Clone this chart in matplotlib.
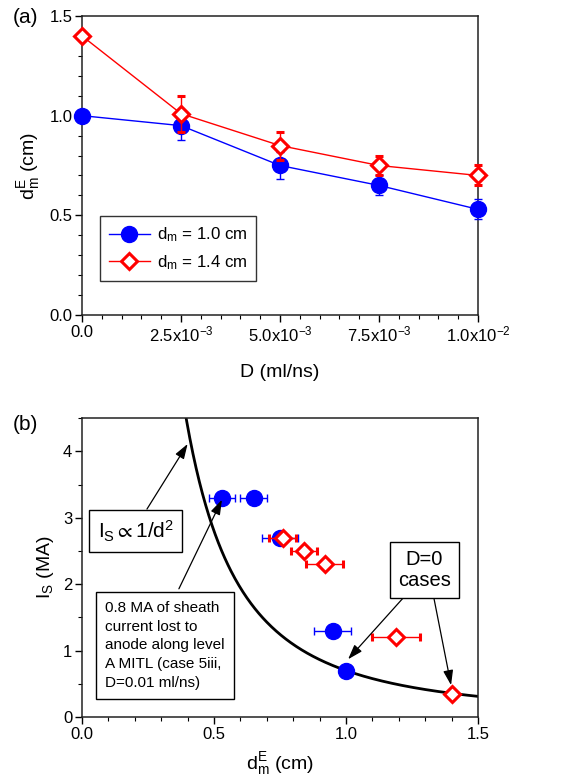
import numpy as np
import matplotlib.pyplot as plt
from matplotlib.ticker import MultipleLocator, FixedLocator
from matplotlib.lines import Line2D

plt.rcParams['font.family'] = ['Liberation Sans', 'DejaVu Sans']
plt.rcParams['mathtext.fontset'] = 'custom'
plt.rcParams['mathtext.rm'] = 'Liberation Sans'
plt.rcParams['mathtext.it'] = 'Liberation Sans:italic'
plt.rcParams['mathtext.default'] = 'regular'

# panel (a): d_m^E vs D
D = [0.0, 0.0025, 0.005, 0.0075, 0.01]
dE_10 = [1.0, 0.95, 0.75, 0.65, 0.53]
dE_10_err = [0.0, 0.07, 0.07, 0.05, 0.05]
dE_14 = [1.4, 1.01, 0.85, 0.75, 0.70]
dE_14_err = [0.0, 0.09, 0.07, 0.05, 0.05]
D_labels = ['0.0', r'2.5x10$^{-3}$', r'5.0x10$^{-3}$', r'7.5x10$^{-3}$', r'1.0x10$^{-2}$']

# panel (b): I_S vs d_m^E
b_d_10 = [0.53, 0.65, 0.75, 0.95, 1.0]
b_d_10_err = [0.05, 0.05, 0.07, 0.07, 0.0]
b_I_10 = [3.3, 3.3, 2.7, 1.3, 0.7]
b_d_14 = [0.76, 0.84, 0.92, 1.19, 1.4]
b_d_14_err = [0.05, 0.05, 0.07, 0.09, 0.0]
b_I_14 = [2.7, 2.5, 2.3, 1.2, 0.35]
fit_k = 0.7  # I_S = k / d^2

blue = '#0000ff'
red = '#ff0000'
circ = dict(marker='o', ms=11.5, mfc=blue, mec=blue)
diam = dict(marker='D', ms=8, mfc='white', mec=red, mew=2.2)

fig = plt.figure(figsize=(5.66, 7.81), dpi=100)
ax1 = fig.add_axes([0.1449, 0.5967, 0.6996, 0.3828])
ax2 = fig.add_axes([0.1449, 0.0819, 0.6996, 0.3828])

# ---- (a)
e1 = ax1.errorbar(D, dE_10, yerr=dE_10_err, color=blue, lw=1, capsize=3, elinewidth=1,
                  zorder=3, **circ)
e2 = ax1.errorbar(D, dE_14, yerr=dE_14_err, color=red, lw=1, capsize=3, elinewidth=1,
                  zorder=4, **diam)
for e in (e1, e2):
    e[0].set_clip_on(False)
    for c in e[1]:
        c.set_clip_on(False)
ax1.set_xlim(0, 0.01)
ax1.set_ylim(0, 1.5)
ax1.xaxis.set_major_locator(FixedLocator(D))
ax1.set_xticklabels(D_labels)
ax1.xaxis.set_minor_locator(MultipleLocator(0.0005))
ax1.yaxis.set_major_locator(MultipleLocator(0.5))
ax1.yaxis.set_minor_locator(MultipleLocator(0.1))
ax1.set_xlabel('D (ml/ns)', fontsize=14, labelpad=14)
ax1.set_ylabel(r'd$_m^E$ (cm)', fontsize=14, labelpad=5)
handles = [Line2D([], [], color=blue, lw=1, **circ), Line2D([], [], color=red, lw=1, **diam)]
leg = ax1.legend(handles, [r'd$_m$ = 1.0 cm', r'd$_m$ = 1.4 cm'], loc='lower left',
                 bbox_to_anchor=(0.045, 0.114), borderaxespad=0, fontsize=12.2,
                 frameon=True, fancybox=False, edgecolor='black', handlelength=2.4,
                 borderpad=0.55, labelspacing=0.5, handletextpad=0.4)
leg.get_frame().set_linewidth(1)
fig.text(0.022, 0.977, '(a)', fontsize=15, va='center')

# ---- (b)
dd = np.linspace(0.3, 1.5, 400)
ax2.plot(dd, fit_k / dd**2, color='black', lw=2, zorder=2)
ax2.errorbar(b_d_10, b_I_10, xerr=b_d_10_err, color=blue, ls='none', capsize=3,
             elinewidth=1, zorder=3, **circ)
ax2.errorbar(b_d_14, b_I_14, xerr=b_d_14_err, color=red, ls='none', capsize=3,
             elinewidth=1, zorder=4, **diam)
ax2.set_xlim(0, 1.5)
ax2.set_ylim(0, 4.5)
ax2.xaxis.set_major_locator(MultipleLocator(0.5))
ax2.xaxis.set_minor_locator(MultipleLocator(0.1))
ax2.yaxis.set_major_locator(MultipleLocator(1))
ax2.yaxis.set_minor_locator(MultipleLocator(0.5))
ax2.set_xlabel(r'd$_m^E$ (cm)', fontsize=14, labelpad=6)
ax2.set_ylabel(r'I$_S$ (MA)', fontsize=14, labelpad=5)
fig.text(0.022, 0.456, '(b)', fontsize=15, va='center')

bbox = dict(boxstyle='square,pad=0.4', fc='white', ec='black', lw=1)
arrow = dict(arrowstyle='-|>,head_length=0.9,head_width=0.3', color='black', lw=0.9,
             shrinkA=0, shrinkB=0)

ax2.annotate('', xy=(0.40, 4.11), xytext=(0.246, 3.13), arrowprops=arrow, zorder=5)
ax2.text(0.203, 2.8, r'I$_S$$\propto$1/d$^2$', fontsize=15, ha='center', va='center',
         bbox=bbox, zorder=6)

ax2.annotate('', xy=(0.53, 3.27), xytext=(0.367, 1.93), arrowprops=arrow, zorder=5)
ax2.text(0.087, 1.08, '0.8 MA of sheath\ncurrent lost to\nanode along level\nA MITL (case 5iii,\nD=0.01 ml/ns)',
         fontsize=11, ha='left', va='center', linespacing=1.42,
         bbox=dict(boxstyle='square,pad=0.6', fc='white', ec='black', lw=1), zorder=6)

ax2.annotate('', xy=(1.008, 0.87), xytext=(1.216, 1.79), arrowprops=arrow, zorder=5)
ax2.annotate('', xy=(1.398, 0.48), xytext=(1.333, 1.79), arrowprops=arrow, zorder=5)
ax2.text(1.296, 2.21, 'D=0\ncases', fontsize=14.5, ha='center', va='center', linespacing=1.15,
         bbox=bbox, zorder=6)

for ax in (ax1, ax2):
    ax.tick_params(which='major', direction='out', length=5, width=1, labelsize=12,
                   pad=2, top=False, right=False)
    ax.tick_params(which='minor', direction='out', length=3, width=0.8, top=False, right=False)
    for s in ax.spines.values():
        s.set_linewidth(1.1)
        s.set_color('#222222')

fig.savefig('out.png', dpi=100)
